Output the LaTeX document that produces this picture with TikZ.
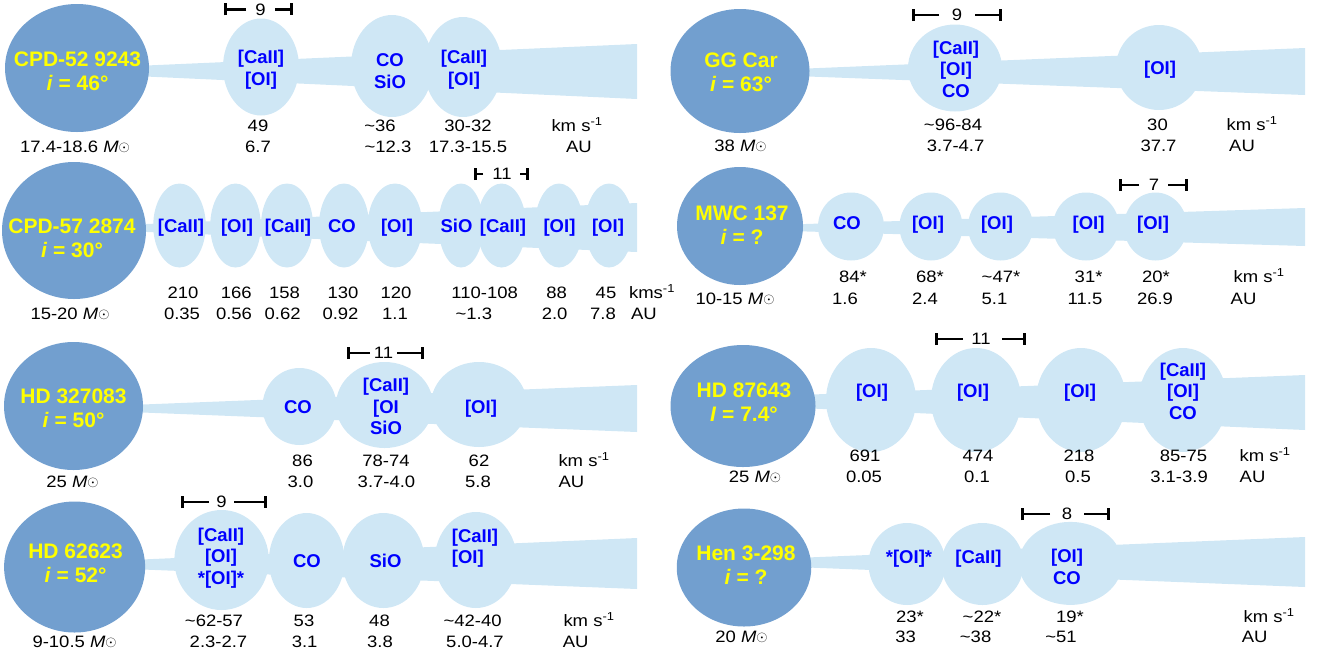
\documentclass[tikz,border=0pt]{standalone}
\usepackage{fontspec}
\setmainfont{Liberation Sans}
\newfontfamily\numfont[FakeStretch=1.12]{Liberation Sans}
\usetikzlibrary{shapes.geometric,arrows.meta}
\definecolor{starblue}{HTML}{729FCF}
\definecolor{pale}{HTML}{CFE7F5}
\definecolor{lbl}{HTML}{0000FF}
\definecolor{ylw}{HTML}{FFFF00}
\newcommand\tld{\textasciitilde}
\newcommand\msun{\textit{M}{\fontsize{14}{14}\selectfont\raisebox{1.3pt}{$\odot$}}}
\newcommand\kmsu{km s\textsuperscript{-1}}
\tikzset{
 starnode/.style={ellipse, fill=starblue, inner sep=0pt},
 blob/.style={ellipse, fill=pale, inner sep=0pt},
 band/.style={fill=pale},
 starlbl/.style={text=ylw, font=\fontsize{21}{24}\selectfont\bfseries, align=center, inner sep=0pt},
 bloblbl/.style={text=lbl, font=\fontsize{18.5}{21.5}\selectfont\bfseries, align=center, inner sep=0pt, text height=13.2pt, text depth=0pt},
 bloblblm/.style={text=lbl, font=\fontsize{18.5}{21.5}\selectfont\bfseries, align=center, inner sep=0pt},
 num/.style={font=\numfont\fontsize{16.5}{19}\selectfont, inner sep=0pt, text height=11.8pt, text depth=0pt},
 sbar/.style={line width=2.6pt, -{Bar[width=12pt]}},
}
\begin{document}
\begin{tikzpicture}[x=1pt,y=-1pt]
\useasboundingbox (0,0) rectangle (1319,657);

% ================= Panel 1: CPD-52 9243
\fill[band] (135,66) -- (637,44) -- (637,99) -- (135,76) -- cycle;
\node[blob,minimum width=76pt,minimum height=97pt] (a1) at (261,67) {};
\node[blob,minimum width=82pt,minimum height=102pt] (a2) at (392,66) {};
\node[blob,minimum width=78pt,minimum height=100pt] (a3) at (463,67) {};
\node[starnode,minimum width=144pt,minimum height=128pt] (sa) at (77,68) {};
\node[starlbl] (ta) at (77.5,71) {CPD-52 9243\\\textit{i} = 46°};
\node[bloblblm] (la1) at (261,69.5) {[CaII]\\{}[OI]};
\node[bloblblm] (la2) at (390,71) {CO\\SiO};
\node[bloblblm] (la3) at (464,69.5) {[CaII]\\{}[OI]};
\coordinate (ka1) at (224,9.3); \coordinate (ka2) at (246,9.3);
\coordinate (ka3) at (275,9.3); \coordinate (ka4) at (293,9.3);
\node[num] (kat) at (260.5,9.3) {9};
\draw[sbar] (ka2) -- (ka1); \draw[sbar] (ka3) -- (ka4);
\node[num] (na1) at (258,126) {49};
\node[num] (na2) at (380,126) {\tld36};
\node[num] (na3) at (468,126) {30-32};
\node[num] (na4) at (577,126) {\kmsu};
\node[num] (nb1) at (258,146.5) {6.7};
\node[num] (nb2) at (388,146.5) {\tld12.3};
\node[num] (nb3) at (468,146.5) {17.3-15.5};
\node[num] (nb4) at (579,146.5) {AU};
\node[num] (ma) at (75,146.5) {17.4-18.6 \msun};

% ================= Panel 2: GG Car
\fill[band] (795,69) -- (1305,48) -- (1305,95) -- (795,76) -- cycle;
\node[blob,minimum width=94pt,minimum height=87pt] (b1) at (955,68) {};
\node[blob,minimum width=86pt,minimum height=85pt] (b2) at (1159,67.5) {};
\node[starnode,minimum width=139pt,minimum height=124pt] (sb) at (740,71) {};
\node[starlbl] (tb) at (741,72) {GG Car\\\textit{i} = 63°};
\node[bloblblm] (lb1) at (956,69) {[CaII]\\{}[OI]\\CO};
\node[bloblbl] (lb2) at (1160,68) {[OI]};
\coordinate (kb1) at (912,15); \coordinate (kb2) at (939,15);
\coordinate (kb3) at (975,15); \coordinate (kb4) at (1002,15);
\node[num] (kbt) at (957,15) {9};
\draw[sbar] (kb2) -- (kb1); \draw[sbar] (kb3) -- (kb4);
\node[num] (nc1) at (953,124.5) {\tld96-84};
\node[num] (nc2) at (1157.5,124.5) {30};
\node[num] (nc3) at (1252,124.5) {\kmsu};
\node[num] (nd1) at (955.6,145.5) {3.7-4.7};
\node[num] (nd2) at (1158.5,145.5) {37.7};
\node[num] (nd3) at (1242,145.5) {AU};
\node[num] (mb) at (740.5,145.5) {38 \msun};

% ================= Panel 3: CPD-57 2874
\fill[band] (135,224.5) -- (637,203) -- (637,252) -- (135,231.5) -- cycle;
\node[blob,minimum width=52.5pt,minimum height=84pt] (c1) at (179.5,225.5) {};
\node[blob,minimum width=50.5pt,minimum height=84pt] (c2) at (235.5,225.5) {};
\node[blob,minimum width=52pt,minimum height=84pt] (c3) at (287,225.5) {};
\node[blob,minimum width=50pt,minimum height=84pt] (c4) at (344,225.5) {};
\node[blob,minimum width=54.5pt,minimum height=84pt] (c5) at (395,225.5) {};
\node[blob,minimum width=45pt,minimum height=84pt] (c6) at (461,225.5) {};
\node[blob,minimum width=49pt,minimum height=84pt] (c7) at (501.5,225.5) {};
\node[blob,minimum width=48pt,minimum height=84pt] (c8) at (559,225.5) {};
\node[blob,minimum width=48pt,minimum height=84pt] (c9) at (609,225.5) {};
\node[starnode,minimum width=144pt,minimum height=137pt] (sc) at (74,230.5) {};
\node[starlbl] (tc) at (72,238.5) {CPD-57 2874\\\textit{i} = 30°};
\node[bloblbl] (lc1) at (181,226) {[CaII]};
\node[bloblbl] (lc2) at (237,226) {[OI]};
\node[bloblbl] (lc3) at (288,226) {[CaII]};
\node[bloblbl] (lc4) at (342,226) {CO};
\node[bloblbl] (lc5) at (397,226) {[OI]};
\node[bloblbl] (lc6) at (456.5,226) {SiO};
\node[bloblbl] (lc7) at (503,226) {[CaII]};
\node[bloblbl] (lc8) at (559.5,226) {[OI]};
\node[bloblbl] (lc9) at (608,226) {[OI]};
\coordinate (kc1) at (474,174); \coordinate (kc2) at (483,174);
\coordinate (kc3) at (520,174); \coordinate (kc4) at (529,174);
\node[num] (kct) at (502,174) {11};
\draw[sbar] (kc2) -- (kc1); \draw[sbar] (kc3) -- (kc4);
\node[num] (ne1) at (183,293) {210};
\node[num] (ne2) at (236.3,293) {166};
\node[num] (ne3) at (284.5,293) {158};
\node[num] (ne4) at (343,293) {130};
\node[num] (ne5) at (396,293) {120};
\node[num] (ne6) at (484.7,293) {110-108};
\node[num] (ne7) at (556.7,293) {88};
\node[num] (ne8) at (606,293) {45};
\node[num] (ne9) at (652,293) {kms\textsuperscript{-1}};
\node[num] (nf1) at (182,314) {0.35};
\node[num] (nf2) at (234,314) {0.56};
\node[num] (nf3) at (282.6,314) {0.62};
\node[num] (nf4) at (340.5,314) {0.92};
\node[num] (nf5) at (395,314) {1.1};
\node[num] (nf6) at (473.8,314) {\tld1.3};
\node[num] (nf7) at (554.6,314) {2.0};
\node[num] (nf8) at (603,314) {7.8};
\node[num] (nf9) at (644,314) {AU};
\node[num] (mc) at (70,314) {15-20 \msun};

% ================= Panel 4: MWC 137
\fill[band] (790,224.5) -- (1305,208) -- (1305,246) -- (790,231) -- cycle;
\node[blob,minimum width=66pt,minimum height=68pt] (d1) at (851,226.5) {};
\node[blob,minimum width=63pt,minimum height=68pt] (d2) at (931,226.5) {};
\node[blob,minimum width=65pt,minimum height=68pt] (d3) at (1000.5,226.5) {};
\node[blob,minimum width=66pt,minimum height=68pt] (d4) at (1086,226.5) {};
\node[blob,minimum width=63pt,minimum height=68pt] (d5) at (1155.5,226.5) {};
\node[starnode,minimum width=126pt,minimum height=118pt] (sd) at (740,226) {};
\node[starlbl] (td) at (742,225.5) {MWC 137\\\textit{i} = ?};
\node[bloblbl] (ld1) at (847,223) {CO};
\node[bloblbl] (ld2) at (928,223) {[OI]};
\node[bloblbl] (ld3) at (997,223) {[OI]};
\node[bloblbl] (ld4) at (1088.6,223) {[OI]};
\node[bloblbl] (ld5) at (1153,223) {[OI]};
\coordinate (kd1) at (1119,185); \coordinate (kd2) at (1139,185);
\coordinate (kd3) at (1168,185); \coordinate (kd4) at (1188,185);
\node[num] (kdt) at (1154,185) {7};
\draw[sbar] (kd2) -- (kd1); \draw[sbar] (kd3) -- (kd4);
\node[num] (ng1) at (853,276.7) {84*};
\node[num] (ng2) at (930,276.7) {68*};
\node[num] (ng3) at (1001,276.7) {\tld47*};
\node[num] (ng4) at (1088.6,276.7) {31*};
\node[num] (ng5) at (1156,276.7) {20*};
\node[num] (ng6) at (1259,276.7) {\kmsu};
\node[num] (nh1) at (845,299) {1.6};
\node[num] (nh2) at (925,299) {2.4};
\node[num] (nh3) at (994.5,299) {5.1};
\node[num] (nh4) at (1085,299) {11.5};
\node[num] (nh5) at (1155,299) {26.9};
\node[num] (nh6) at (1243.5,299) {AU};
\node[num] (md) at (735,299) {10-15 \msun};

% ================= Panel 5: HD 327083
\fill[band] (130,405) -- (637,385) -- (637,432) -- (130,412) -- cycle;
\node[blob,minimum width=74pt,minimum height=77pt] (e1) at (299.5,406.5) {};
\node[blob,minimum width=97pt,minimum height=86pt] (e2) at (384.5,405) {};
\node[blob,minimum width=96pt,minimum height=85pt] (e3) at (479,404.5) {};
\node[starnode,minimum width=139pt,minimum height=128pt] (se) at (73.5,406) {};
\node[starlbl] (te) at (73.5,408.5) {HD 327083\\\textit{i} = 50°};
\node[bloblbl] (le1) at (298,407) {CO};
\node[bloblblm] (le2) at (386,406.5) {[CaII]\\{}[OI\\SiO};
\node[bloblbl] (le3) at (481,407) {[OI]};
\coordinate (ke1) at (347,353); \coordinate (ke2) at (370,353);
\coordinate (ke3) at (397,353); \coordinate (ke4) at (424,353);
\node[num] (ket) at (383.5,353) {11};
\draw[sbar] (ke2) -- (ke1); \draw[sbar] (ke3) -- (ke4);
\node[num] (ni1) at (302.5,460.7) {86};
\node[num] (ni2) at (386,460.7) {78-74};
\node[num] (ni3) at (479,460.7) {62};
\node[num] (ni4) at (584,460.7) {\kmsu};
\node[num] (nj1) at (300.5,481.7) {3.0};
\node[num] (nj2) at (386.5,481.7) {3.7-4.0};
\node[num] (nj3) at (478,481.7) {5.8};
\node[num] (nj4) at (571.5,481.7) {AU};
\node[num] (me) at (72.5,481.7) {25 \msun};

% ================= Panel 6: HD 87643
\fill[band] (800,395) -- (1305,375) -- (1305,430) -- (800,408) -- cycle;
\node[blob,minimum width=90pt,minimum height=104pt] (f1) at (871,400) {};
\node[blob,minimum width=90pt,minimum height=104pt] (f2) at (976,400) {};
\node[blob,minimum width=90pt,minimum height=104pt] (f3) at (1081,400) {};
\node[blob,minimum width=88pt,minimum height=104pt] (f4) at (1183,400) {};
\node[starnode,minimum width=145pt,minimum height=122pt] (sf) at (743,406) {};
\node[starlbl] (tf) at (744,402.5) {HD 87643\\\textit{I} = 7.4°};
\node[bloblbl] (lf1) at (872,391) {[OI]};
\node[bloblbl] (lf2) at (973,391) {[OI]};
\node[bloblbl] (lf3) at (1080,391) {[OI]};
\node[bloblblm] (lf4) at (1183,391) {[CaII]\\{}[OI]\\CO};
\coordinate (kf1) at (935,339); \coordinate (kf2) at (962.5,339);
\coordinate (kf3) at (1002,339); \coordinate (kf4) at (1025.5,339);
\node[num] (kft) at (981,339) {11};
\draw[sbar] (kf2) -- (kf1); \draw[sbar] (kf3) -- (kf4);
\node[num] (nk1) at (865,456) {691};
\node[num] (nk2) at (978,456) {474};
\node[num] (nk3) at (1079,456) {218};
\node[num] (nk4) at (1183.5,456) {85-75};
\node[num] (nk5) at (1265,456) {\kmsu};
\node[num] (nl1) at (864,476.7) {0.05};
\node[num] (nl2) at (977,476.7) {0.1};
\node[num] (nl3) at (1078,476.7) {0.5};
\node[num] (nl4) at (1179,476.7) {3.1-3.9};
\node[num] (nl5) at (1252.5,476.7) {AU};
\node[num] (mf) at (755,476.7) {25 \msun};

% ================= Panel 7: HD 62623
\fill[band] (130,560) -- (637,538) -- (637,589) -- (130,569) -- cycle;
\node[blob,minimum width=94.5pt,minimum height=100pt] (g1) at (221.6,560) {};
\node[blob,minimum width=75.6pt,minimum height=95pt] (g2) at (306.7,560.5) {};
\node[blob,minimum width=82pt,minimum height=95pt] (g3) at (383.4,560.5) {};
\node[blob,minimum width=82pt,minimum height=96pt] (g4) at (475.8,560) {};
\node[starnode,minimum width=141pt,minimum height=131pt] (sg) at (74.6,567) {};
\node[starlbl] (tg) at (75.6,563.5) {HD 62623\\\textit{i} = 52°};
\node[bloblblm] (lg1) at (221,558) {[CaII]\\{}[OI]\\{}*[OI]*};
\node[bloblbl] (lg2) at (307,560.7) {CO};
\node[bloblbl] (lg3) at (385.5,560.7) {SiO};
\node[bloblblm,align=left] (lg4) at (475,548) {[CaII]\\{}[OI]};
\coordinate (kg1) at (181,502); \coordinate (kg2) at (209,502);
\coordinate (kg3) at (234,502); \coordinate (kg4) at (267,502);
\node[num] (kgt) at (221.5,502) {9};
\draw[sbar] (kg2) -- (kg1); \draw[sbar] (kg3) -- (kg4);
\node[num] (nm1) at (214,620.7) {\tld62-57};
\node[num] (nm2) at (304,620.7) {53};
\node[num] (nm3) at (379.5,620.7) {48};
\node[num] (nm4) at (472.6,620.7) {\tld42-40};
\node[num] (nm5) at (589,620.7) {\kmsu};
\node[num] (nn1) at (218.5,641.7) {2.3-2.7};
\node[num] (nn2) at (304.6,641.7) {3.1};
\node[num] (nn3) at (380,641.7) {3.8};
\node[num] (nn4) at (475,641.7) {5.0-4.7};
\node[num] (nn5) at (575.6,641.7) {AU};
\node[num] (mg) at (74.6,641.7) {9-10.5 \msun};

% ================= Panel 8: Hen 3-298
\fill[band] (795,558) -- (1305,537) -- (1305,587) -- (795,567) -- cycle;
\node[blob,minimum width=77pt,minimum height=82pt] (h1) at (907,564) {};
\node[blob,minimum width=82pt,minimum height=82pt] (h2) at (982.5,564) {};
\node[blob,minimum width=103pt,minimum height=83pt] (h3) at (1070.5,563.4) {};
\node[starnode,minimum width=134.5pt,minimum height=118pt] (sh) at (744,567.5) {};
\node[starlbl] (th) at (746,565.5) {Hen 3-298\\\textit{i} = ?};
\node[bloblbl] (lh1) at (909,556.7) {*[OI]*};
\node[bloblbl] (lh2) at (978.5,556.7) {[CaII]};
\node[bloblblm] (lh3) at (1067,567) {[OI]\\CO};
\coordinate (kh1) at (1021,514); \coordinate (kh2) at (1050,514);
\coordinate (kh3) at (1084,514); \coordinate (kh4) at (1110,514);
\node[num] (kht) at (1067,514) {8};
\draw[sbar] (kh2) -- (kh1); \draw[sbar] (kh3) -- (kh4);
\node[num] (no1) at (910,616.7) {23*};
\node[num] (no2) at (982,616.7) {\tld22*};
\node[num] (no3) at (1070,616.7) {19*};
\node[num] (no4) at (1269,616.7) {\kmsu};
\node[num] (np1) at (905.6,636.7) {33};
\node[num] (np2) at (975.6,636.7) {\tld38};
\node[num] (np3) at (1061,636.7) {\tld51};
\node[num] (np4) at (1254.6,636.7) {AU};
\node[num] (mh) at (741.5,636.7) {20 \msun};
\end{tikzpicture}
\end{document}
